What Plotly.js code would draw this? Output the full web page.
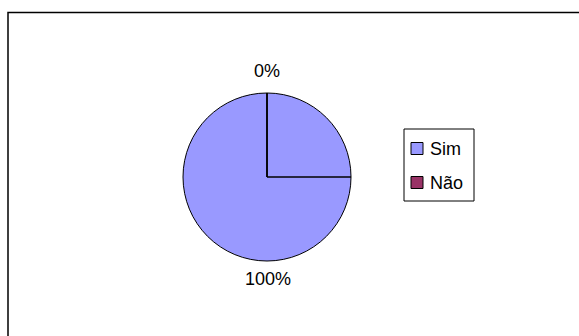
<!DOCTYPE html>
<html><head><meta charset="utf-8">
<script src="https://cdn.plot.ly/plotly-3.0.1.min.js"></script>
<style>html,body{margin:0;padding:0;background:#fff}</style>
</head><body>
<div id="chart" style="width:579px;height:336px"></div>
<script>
const labels = ["Sim", "Não"];
const values = [100, 0];
const colors = ["#9999FF", "#993366"];

const W = 579, H = 336;
const cx = 267, cy = 177, r = 84;
const px = v => v / W, py = v => 1 - v / H;
const FONT = "Liberation Sans, Arial, sans-serif";

const total = values.reduce((a, b) => a + b, 0);
const pct = values.map(v => Math.round(v / total * 100) + "%");

const data = [{
  type: "pie",
  labels: labels,
  values: values,
  sort: false,
  direction: "clockwise",
  rotation: 0,
  textinfo: "none",
  marker: {colors: colors, line: {color: "#000", width: 1}},
  domain: {x: [px(cx - r), px(cx + r)], y: [py(cy + r), py(cy - r)]},
  automargin: false,
  showlegend: false,
  hoverinfo: "none"
}];

// slice labels: Sim (100%) at bottom, Não (0%) at top
const labelPos = [[268, 279], [267, 71]];
const annotations = values.map((v, i) => ({
  xref: "paper", yref: "paper", x: px(labelPos[i][0]), y: py(labelPos[i][1]),
  xanchor: "center", yanchor: "middle", showarrow: false,
  text: pct[i], font: {family: FONT, size: 18, color: "#000"}
}));

const shapes = [
  {type: "rect", xref: "paper", yref: "paper", x0: px(8), x1: 1.05, y0: -0.05, y1: py(12.5), line: {color: "#000", width: 1.5}},
  {type: "line", xref: "paper", yref: "paper", x0: px(cx), y0: py(cy), x1: px(cx), y1: py(cy - r), line: {color: "#000", width: 1.5}},
  {type: "line", xref: "paper", yref: "paper", x0: px(cx), y0: py(cy), x1: px(cx + r), y1: py(cy), line: {color: "#000", width: 1.5}},
  // legend box
  {type: "rect", xref: "paper", yref: "paper", x0: px(404), x1: px(474), y0: py(201), y1: py(129), line: {color: "#000", width: 1}, fillcolor: "#fff"}
];

// legend entries
const legY = [148.5, 182.5];
labels.forEach((lab, i) => {
  shapes.push({type: "rect", xref: "paper", yref: "paper",
    x0: px(411), x1: px(423), y0: py(legY[i] + 6), y1: py(legY[i] - 6),
    fillcolor: colors[i], line: {color: "#000", width: 1}});
  annotations.push({xref: "paper", yref: "paper", x: px(428), y: py(legY[i]),
    xanchor: "left", yanchor: "middle", showarrow: false,
    text: lab, font: {family: FONT, size: 18, color: "#000"}});
});

const layout = {
  width: W, height: H,
  margin: {l: 0, r: 0, t: 0, b: 0},
  paper_bgcolor: "#fff",
  font: {family: FONT, size: 18, color: "#000"},
  showlegend: false,
  shapes: shapes,
  annotations: annotations
};

Plotly.newPlot("chart", data, layout, {displayModeBar: false, staticPlot: true});
</script>
</body></html>
